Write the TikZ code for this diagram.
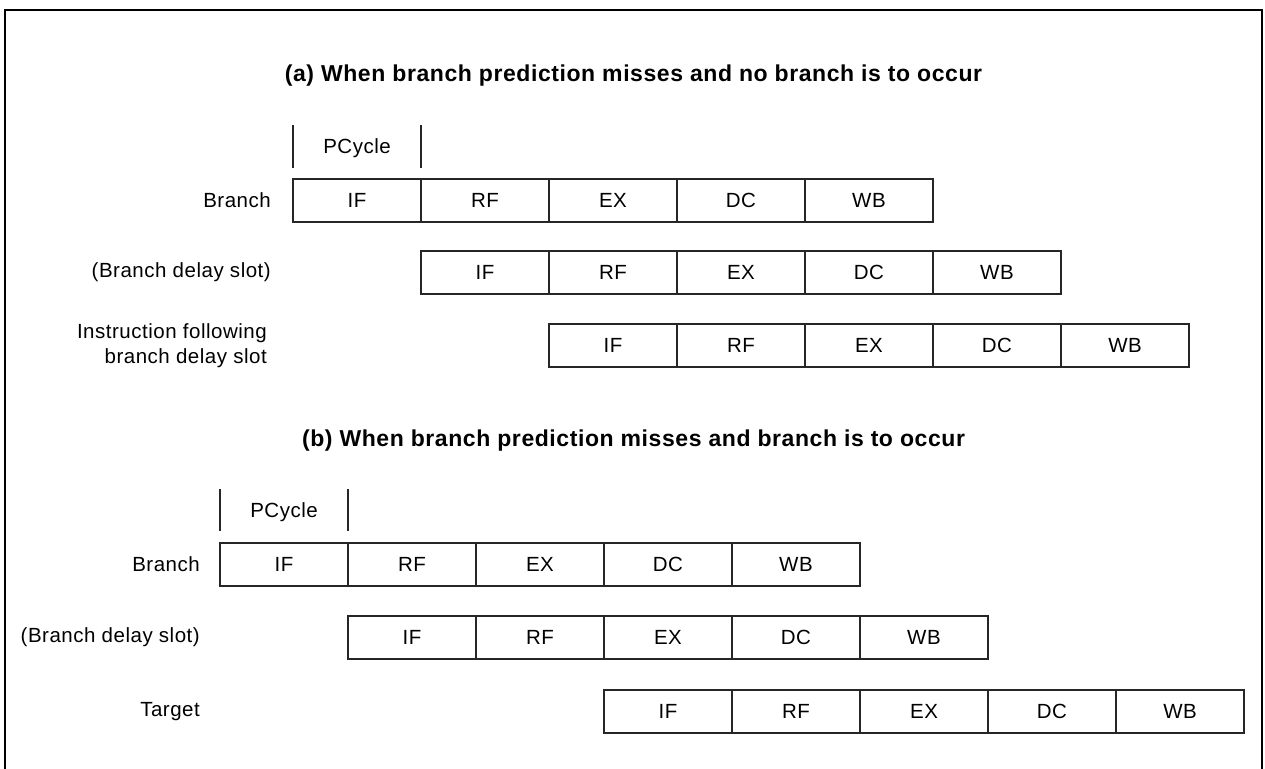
\documentclass[tikz,border=0pt]{standalone}
\usepackage{fontspec}
\setmainfont{Liberation Sans}[LetterSpace=2.5]
\usetikzlibrary{positioning}
\tikzstyle{stage}=[rectangle,draw=black!85,line width=1.2pt,minimum width=128pt,minimum height=43pt,inner sep=0pt,outer sep=0pt,font=\fontsize{20.5}{24}\selectfont]
\tikzstyle{lbl}=[anchor=east,align=right,inner sep=0pt,font=\fontsize{20.5}{25}\selectfont]
\tikzstyle{ttl}=[inner sep=0pt,font=\fontsize{23}{27}\selectfont\bfseries]
\tikzstyle{tick}=[line width=1.2pt,draw=black!85]
% one pipeline row: #1-1 is placed first, the other four stages follow it
\newcommand{\stagerow}[1]{%
  \foreach \s [count=\i from 2, remember=\i as \j (initially 1)] in {RF,EX,DC,WB}
    \node[stage, right=0pt of #1-\j] (#1-\i) {\s};}

\begin{document}
\begin{tikzpicture}[x=1pt,y=1pt]
\useasboundingbox (0,0) rectangle (1265,768);
\clip (0,0) rectangle (1265,768);
\draw[line width=2.2pt] (5,-10) |- (1262,758) -- (1262,-10);

% (a) no branch
\node[ttl] (ta) at (633.5,692) {(a) When branch prediction misses and no branch is to occur};
\node[stage] (aBr-1) at (357,567.5) {IF};
\stagerow{aBr}
\node[stage, below=29pt of aBr-2] (aDs-1) {IF};
\stagerow{aDs}
\node[stage, below=30pt of aDs-2] (aNx-1) {IF};
\stagerow{aNx}
\draw[tick] ([yshift=11pt]aBr-1.north west) -- ++(0,43);
\draw[tick] ([yshift=11pt]aBr-1.north east) -- ++(0,43);
\node (aPc) at ([yshift=31pt]aBr-1.north) {\fontsize{20.5}{24}\selectfont PCycle};
\node[lbl] (laBr) at ([xshift=-22pt]aBr-1.west) {Branch};
\node[lbl] (laDs) at (laBr.east |- aDs-1) {(Branch delay slot)};
\node[lbl] (laNx) at ([xshift=-4pt]laBr.east |- aNx-1) {Instruction following\\branch delay slot};

% (b) branch taken
\node[ttl] (tb) at (633.5,327) {(b) When branch prediction misses and branch is to occur};
\node[stage] (bBr-1) at (284,203.5) {IF};
\stagerow{bBr}
\node[stage, below=30pt of bBr-2] (bDs-1) {IF};
\stagerow{bDs}
\node[stage, below=31pt of bDs-3] (bTg-1) {IF};
\stagerow{bTg}
\draw[tick] ([yshift=12pt]bBr-1.north west) -- ++(0,42);
\draw[tick] ([yshift=12pt]bBr-1.north east) -- ++(0,42);
\node (bPc) at ([yshift=31pt]bBr-1.north) {\fontsize{20.5}{24}\selectfont PCycle};
\node[lbl] (lbBr) at ([xshift=-20pt]bBr-1.west) {Branch};
\node[lbl] (lbDs) at (lbBr.east |- bDs-1) {(Branch delay slot)};
\node[lbl] (lbTg) at (lbBr.east |- bTg-1) {Target};
\end{tikzpicture}
\end{document}
